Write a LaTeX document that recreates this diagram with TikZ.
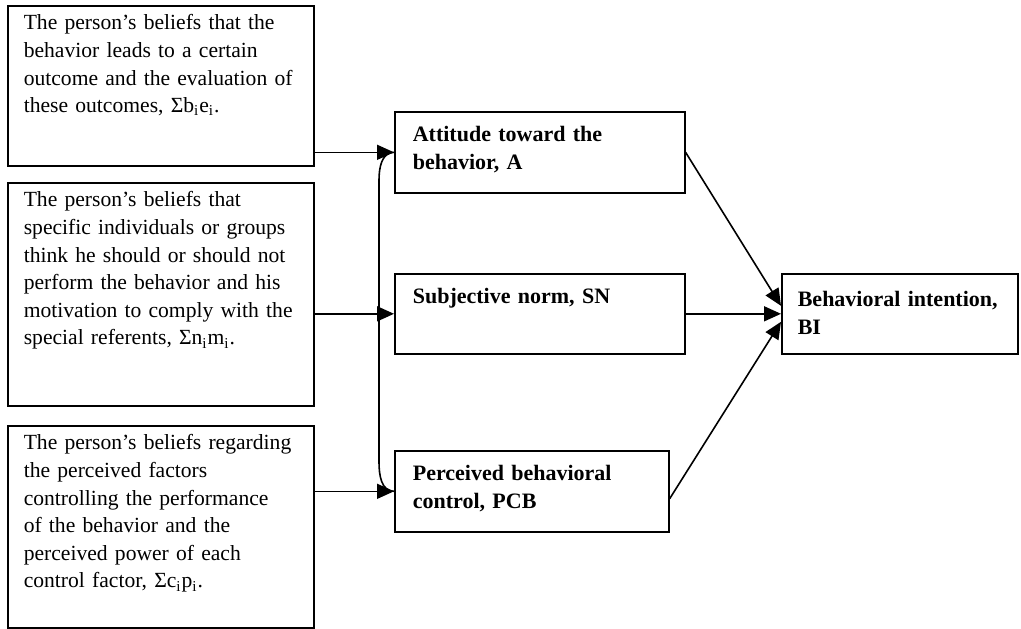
\documentclass[tikz,border=0pt]{standalone}
\usepackage{fontspec}
\setmainfont{Liberation Serif}
\usetikzlibrary{arrows.meta}
\hyphenpenalty=10000

\begin{document}
\begin{tikzpicture}[x=0.5pt,y=-0.5pt]
  \tikzset{BeliefStyle/.style = {
    shape         = rectangle,
    draw          = black,
    line width    = 0.8pt,
    anchor        = north west,
    align         = left,
    text width    = 137pt,
    inner xsep    = 8pt,
    inner ysep    = 0pt,
    text height   = 12pt,
    font          = \fontsize{10.8pt}{13.8pt}\selectfont
    }
  }
  \tikzset{ConstructStyle/.style = {
    shape         = rectangle,
    draw          = black,
    line width    = 0.8pt,
    anchor        = north west,
    align         = left,
    text width    = 127pt,
    inner xsep    = 9pt,
    inner ysep    = 0pt,
    text height   = 15pt,
    font          = \fontsize{11pt}{13.8pt}\selectfont\bfseries
    }
  }
  \tikzset{EdgeStyle/.style = {
    draw          = black,
    line width    = 0.8pt,
    -{Triangle[length=8.5pt,width=7.5pt]}
    }
  }
  \tikzset{LinkStyle/.style = {
    draw          = black,
    line width    = 0.8pt
    }
  }

  \useasboundingbox (0,0) rectangle (1021,628);

	\node[BeliefStyle, text depth=68pt](B1) at (7, 5) {The person’s beliefs that the\\behavior leads to a certain\\outcome and the evaluation of\\these outcomes, Σb\textsubscript{i}e\textsubscript{i}.};
	\node[BeliefStyle, text depth=99.5pt](B2) at (7, 182) {The person’s beliefs that\\specific individuals or groups\\think he should or should not\\perform the behavior and his\\motivation to comply with the\\special referents, Σn\textsubscript{i}m\textsubscript{i}.};
	\node[BeliefStyle, text depth=89pt](B3) at (7, 425) {The person’s beliefs regarding\\the perceived factors\\controlling the performance\\of the behavior and the\\perceived power of each\\control factor, Σc\textsubscript{i}p\textsubscript{i}.};
	\node[ConstructStyle, text depth=25.5pt](C1) at (394, 111) {Attitude toward the\\behavior, A};
	\node[ConstructStyle, text depth=25pt](C2) at (394, 273) {Subjective norm, SN};
	\node[ConstructStyle, text depth=25.5pt, text width=119pt](C3) at (394, 450) {Perceived behavioral\\control, PCB};
	\node[ConstructStyle, text depth=23.5pt, text height=16.5pt, text width=102pt, inner xsep=8pt](D1) at (781, 273) {Behavioral intention,\\BI};
	\coordinate (K1) at (379, 180);
	\coordinate (K2) at (379, 462);

	\draw[EdgeStyle](C1.west -| B1.east) -- (C1.west);
	\draw[EdgeStyle](C2.west -| B2.east) -- (C2.west);
	\draw[EdgeStyle](C3.west -| B3.east) -- (C3.west);
	\draw[LinkStyle](C1.west) to[out=180, in=90] (K1) -- (K2) to[out=-90, in=180] (C3.west);
	\draw[EdgeStyle](C1.east) -- ([yshift=4pt]D1.west);
	\draw[EdgeStyle](C2.east) -- (D1.west);
	\draw[EdgeStyle]([yshift=-3.75pt]C3.east) -- ([yshift=-4pt]D1.west);

  \end{tikzpicture}
\end{document}
